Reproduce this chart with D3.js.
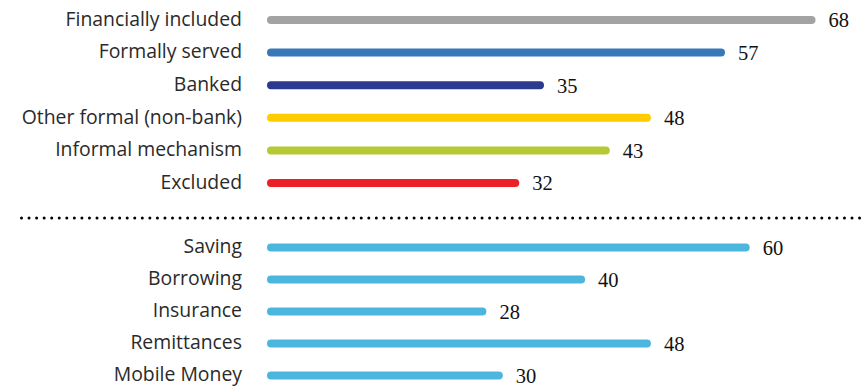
<!DOCTYPE html>
<html>
<head>
<meta charset="utf-8">
<script src="https://cdn.jsdelivr.net/npm/d3@7"></script>
<style>
  body { margin: 0; background: #fff; }
  svg { display: block; }
</style>
</head>
<body>
<div id="chart"></div>
<script>
// ===== Data =====
const statusLabels = ['Financially included', 'Formally served', 'Banked', 'Other formal (non-bank)', 'Informal mechanism', 'Excluded'];
const statusValues = [68, 57, 35, 48, 43, 32];
const statusColors = ['#a3a3a3', '#3778b9', '#2b3a8f', '#ffcc00', '#b6c934', '#ec2027'];

const productLabels = ['Saving', 'Borrowing', 'Insurance', 'Remittances', 'Mobile Money'];
const productValues = [60, 40, 28, 48, 30];
const productColor = '#4cb6df';

// ===== Chart =====
const width = 867;
const height = 389;
const labelRight = 242;
const barStart = 271;   // line start (round cap pokes out ~4px)
const barWidth = 8;

const svg = d3.select('#chart')
  .append('svg')
  .attr('width', width)
  .attr('height', height);

const x = d3.scaleLinear()
  .domain([0, 68])
  .range([252, 811.5]);

const yTop = d3.scalePoint()
  .domain(statusLabels)
  .range([20, 183]);

const yBottom = d3.scalePoint()
  .domain(productLabels)
  .range([247.5, 375.5]);

function drawGroup(labels, values, y, colorOf) {
  const data = labels.map((label, i) => ({ label, value: values[i], color: colorOf(i) }));
  const g = svg.append('g');

  g.selectAll('.bar')
    .data(data)
    .enter()
    .append('line')
    .attr('class', 'bar')
    .attr('x1', barStart)
    .attr('x2', d => x(d.value))
    .attr('y1', d => y(d.label))
    .attr('y2', d => y(d.label))
    .attr('stroke', d => d.color)
    .attr('stroke-width', barWidth)
    .attr('stroke-linecap', 'round');

  g.selectAll('.label')
    .data(data)
    .enter()
    .append('text')
    .attr('class', 'label')
    .attr('x', labelRight)
    .attr('y', d => y(d.label))
    .attr('dy', '0.3em')
    .attr('text-anchor', 'end')
    .attr('font-family', '"Open Sans", sans-serif')
    .attr('font-size', 19.4)
    .attr('fill', '#2a2a2a')
    .text(d => d.label);

  g.selectAll('.value')
    .data(data)
    .enter()
    .append('text')
    .attr('class', 'value')
    .attr('x', d => x(d.value) + 17)
    .attr('y', d => y(d.label))
    .attr('dy', '0.36em')
    .attr('font-family', '"Liberation Serif", serif')
    .attr('font-size', 20.5)
    .attr('fill', '#111')
    .text(d => d.value);
}

drawGroup(statusLabels, statusValues, yTop, i => statusColors[i]);

// dotted separator
svg.append('line')
  .attr('x1', 21.5)
  .attr('x2', width)
  .attr('y1', 218)
  .attr('y2', 218)
  .attr('stroke', '#000')
  .attr('stroke-width', 3)
  .attr('stroke-linecap', 'round')
  .attr('stroke-dasharray', '0 7.55');

drawGroup(productLabels, productValues, yBottom, () => productColor);
</script>
</body>
</html>
